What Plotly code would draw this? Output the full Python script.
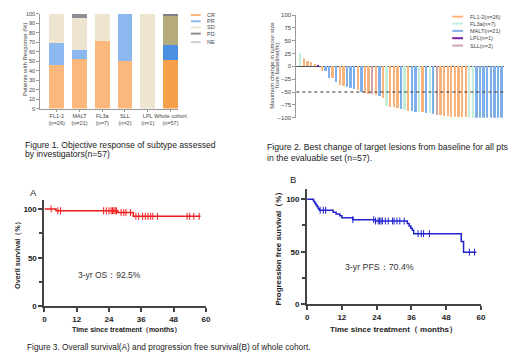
import numpy as np
import plotly.graph_objects as go

W, H = 520, 361
FONT = "Liberation Sans, Arial, sans-serif"

# ---------------- Figure 1 data: response by subtype ----------------
subtypes = ["FL1-2<br>(n=26)", "MALT<br>(n=21)", "FL3a<br>(n=7)", "SLL<br>(n=2)", "LPL<br>(n=1)", "Whole cohort<br>(n=57)"]
resp_names = ["CR", "PR", "SD", "PD", "NE"]
cr_pct = [46.2, 52.4, 71.4, 50.0, 0.0, 50.9]
pr_pct = [23.1, 9.5, 0.0, 50.0, 0.0, 15.8]
sd_pct = [30.8, 33.3, 28.6, 0.0, 100.0, 31.6]
pd_pct = [0.0, 4.8, 0.0, 0.0, 0.0, 1.7]
ne_pct = [0.0, 0.0, 0.0, 0.0, 0.0, 0.0]
resp_colors = ["#fbb77c", "#8bb9ef", "#ede5cf", "#8e8e96", "#cfcfcf"]
whole_colors = ["#f7a04c", "#4a8fe2", "#b4aa7a", "#80808a", "#bdbdbd"]

# ---------------- Figure 2 data: waterfall ----------------
wf_change = [27, 17, 11, 8, 5, 3, -9, -10, -22, -23, -31, -37, -39, -40, -42, -44, -46, -49, -52, -53,
             -54, -55, -58, -62, -77, -79, -80, -81, -84, -85, -86, -87, -88, -88, -89, -90, -91, -92,
             -94, -95, -96, -97, -98, -98, -99, -99, -99, -100, -100, -100, -100, -100, -100, -100,
             -100, -100, -100]
wf_subtype = ["FL3a", "FL1-2", "FL1-2", "FL1-2", "FL1-2", "LPL", "FL1-2", "MALT", "MALT", "FL1-2",
              "MALT", "FL1-2", "FL1-2", "MALT", "MALT", "MALT", "FL1-2", "MALT", "FL1-2", "FL1-2",
              "SLL", "FL1-2", "MALT", "FL1-2", "FL3a", "FL1-2", "FL1-2",
              "FL1-2", "MALT", "FL3a", "FL1-2", "MALT", "MALT", "FL3a", "FL1-2", "MALT", "FL3a",
              "MALT", "SLL", "FL1-2", "FL1-2", "FL1-2", "FL1-2", "FL1-2", "FL1-2", "FL1-2", "FL1-2",
              "FL3a", "FL3a", "MALT", "MALT", "MALT", "MALT", "MALT", "MALT", "MALT", "MALT"]
wf_legend = ["FL1-2(n=26)", "FL3a(n=7)", "MALT(n=21)", "LPL(n=1)", "SLL(n=2)"]
wf_keys = ["FL1-2", "FL3a", "MALT", "LPL", "SLL"]
wf_colors = ["#fbb57c", "#c4eedc", "#80b0ea", "#7a1fa0", "#cfa3aa"]

# ---------------- Figure 3 data: KM curves ----------------
os_times = [0, 4.3, 27.3, 33.0, 58.0]
os_surv = [100, 98.2, 96.3, 92.5, 92.5]
os_censor = [2.5, 5.0, 6.0, 22.0, 23.0, 24.0, 24.8, 25.3, 25.8, 26.3, 26.8, 28.5, 29.5, 30.3, 32.0,
             34.0, 35.0, 36.5, 37.5, 38.5, 39.5, 40.3, 42.0, 53.0, 54.0, 55.5, 57.5]
pfs_times = [0, 2.2, 2.6, 3.0, 3.4, 3.8, 4.2, 9.0, 10.0, 11.3, 12.0, 15.8, 23.6, 34.6, 35.2, 35.8,
             36.3, 36.8, 53.2, 54.0, 58.4]
pfs_surv = [100, 98.2, 96.5, 94.7, 93.0, 91.2, 89.5, 87.7, 86.0, 84.2, 82.5, 80.6, 79.3, 77.0, 74.6,
            72.4, 70.4, 67.2, 59.8, 49.6, 49.6]
pfs_censor = [4.5, 5.6, 6.4, 15.8, 23.0, 23.6, 24.5, 25.0, 25.5, 26.0, 27.0, 28.0, 29.5, 30.0, 31.0,
              32.0, 33.5, 38.3, 39.4, 40.2, 42.2, 56.0, 57.8]
x_ticks = [0, 12, 24, 36, 48, 60]


def step_at(times, surv, t):
    idx = np.searchsorted(np.array(times), np.array(t), side="right") - 1
    return [surv[i] for i in idx]


def px(x):
    return x / W


def py(y):
    return 1 - y / H


fig = go.Figure()

# ----- Fig 1 stacked bars
all_pct = [cr_pct, pr_pct, sd_pct, pd_pct, ne_pct]
for name, vals, c, cw in zip(resp_names, all_pct, resp_colors, whole_colors):
    fig.add_bar(x=subtypes, y=vals, name=name, marker=dict(color=[c] * 5 + [cw], line_width=0),
                xaxis="x", yaxis="y", showlegend=False)

# ----- Fig 2 waterfall
cmap = dict(zip(wf_keys, wf_colors))
fig.add_bar(x=list(range(1, len(wf_change) + 1)), y=wf_change,
            marker=dict(color=[cmap[s] for s in wf_subtype], line_width=0),
            xaxis="x2", yaxis="y2", showlegend=False)

# ----- Fig 3A OS
fig.add_scatter(x=os_times, y=os_surv, mode="lines", line=dict(color="#ee1c1c", width=1.5, shape="hv"),
                xaxis="x3", yaxis="y3", showlegend=False)
fig.add_scatter(x=os_censor, y=step_at(os_times, os_surv, os_censor), mode="markers",
                marker=dict(symbol="line-ns", size=5, line=dict(color="#ee1c1c", width=1)),
                xaxis="x3", yaxis="y3", showlegend=False)
# ----- Fig 3B PFS
fig.add_scatter(x=pfs_times, y=pfs_surv, mode="lines", line=dict(color="#2222cc", width=1.5, shape="hv"),
                xaxis="x4", yaxis="y4", showlegend=False)
fig.add_scatter(x=pfs_censor, y=step_at(pfs_times, pfs_surv, pfs_censor), mode="markers",
                marker=dict(symbol="line-ns", size=5, line=dict(color="#2222cc", width=1)),
                xaxis="x4", yaxis="y4", showlegend=False)

small = dict(family=FONT, size=5.5, color="#444")
bold_tick = dict(family=FONT, size=8, color="#222", weight="bold")

km_axis = dict(showline=True, linecolor="#444", linewidth=2, ticks="outside", ticklen=4, tickwidth=2,
               tickcolor="#444", showgrid=False, zeroline=False, tickfont=bold_tick)

fig.update_layout(
    width=W, height=H, margin=dict(l=0, r=0, t=0, b=0),
    paper_bgcolor="white", plot_bgcolor="white", barmode="stack", bargap=0.35,
    font=dict(family=FONT, color="#333"),
    xaxis=dict(domain=[px(39), px(180)], anchor="y", type="category", range=[-0.73, 5.34],
               showline=True, linecolor="#999", ticks="outside", ticklen=2, tickcolor="#999",
               tickfont=small, tickangle=0, showgrid=False),
    yaxis=dict(domain=[py(108), py(11)], anchor="x", range=[0, 100], dtick=10, showline=True,
               linecolor="#999", ticks="outside", ticklen=3, tickcolor="#999", tickfont=small,
               showgrid=False, zeroline=False),
    xaxis2=dict(domain=[px(300.7), px(513)], anchor="y2", range=[-0.1, 57.7], showticklabels=False,
                showline=False, zeroline=False, showgrid=False, ticks=""),
    yaxis2=dict(domain=[py(117.3), py(12.3)], anchor="x2", range=[-100, 100],
                tickvals=[-100, -75, -50, -25, 0, 25, 50, 75, 100], showline=True, linecolor="#999",
                ticks="outside", ticklen=3, tickcolor="#999", tickfont=dict(family=FONT, size=6, color="#444"),
                showgrid=False, zeroline=True, zerolinecolor="#555", zerolinewidth=1),
    xaxis3=dict(domain=[px(43.3), px(208.3)], anchor="y3", range=[0, 60], tickvals=x_ticks, **km_axis),
    yaxis3=dict(domain=[py(310.3), py(201.7)], anchor="x3", range=[0, 109], tickvals=[0, 50, 100],
                minor=dict(tickvals=[25, 75], ticks="outside", ticklen=3, tickwidth=2, tickcolor="#444"),
                **km_axis),
    xaxis4=dict(domain=[px(311.7), px(489.3)], anchor="y4", range=[0, 60], tickvals=x_ticks, **km_axis),
    yaxis4=dict(domain=[py(308), py(190)], anchor="x4", range=[0, 110], tickvals=[0, 50, 100],
                minor=dict(tickvals=[25, 75], ticks="outside", ticklen=3, tickwidth=2, tickcolor="#444"),
                **km_axis),
)

# dashed -50% reference line in waterfall
fig.add_shape(type="line", xref="x2 domain", yref="y2", x0=0, x1=1, y0=-50, y1=-50,
              line=dict(color="#333", width=1, dash="dot"))

ann = []


def txt(x, y, s, size, color="#333", angle=0, xanchor="center", weight="normal"):
    ann.append(dict(x=px(x), y=py(y), xref="paper", yref="paper", text=s, showarrow=False,
                    xanchor=xanchor, yanchor="middle", textangle=angle,
                    font=dict(family=FONT, size=size, color=color, weight=weight)))


# legends (swatches + labels)
leg1_y = [12.3, 18.7, 25, 31.3, 40]
for name, c, yy in zip(resp_names, resp_colors, leg1_y):
    fig.add_shape(type="line", xref="paper", yref="paper", x0=px(193), x1=px(203), y0=py(yy), y1=py(yy),
                  line=dict(color=c, width=2))
    txt(207, yy, name, 5.5, "#444", xanchor="left")
leg2_y = [14, 21, 28.5, 36, 43.5]
for name, c, yy in zip(wf_legend, wf_colors, leg2_y):
    fig.add_shape(type="line", xref="paper", yref="paper", x0=px(460), x1=px(471), y0=py(yy), y1=py(yy),
                  line=dict(color=c, width=2))
    txt(476, yy, name, 5.5, "#444", xanchor="left")

# axis titles
txt(23, 58, "Patients with Response (%)", 6, "#444", angle=-90)
txt(275, 64, "Maximum change in tumour size", 6, "#444", angle=-90)
txt(280.5, 64, "from baseline(%)", 6, "#444", angle=-90)
txt(16, 256, "Overll survival（%）", 7.3, "#222", angle=-90, weight="bold")
txt(127, 334, "Time since treatment（months）", 7, "#222", weight="bold")
txt(282, 249, "Progression free survival（%）", 7.9, "#222", angle=-90, weight="bold")
txt(400, 334, "Time since treatment（ months）", 8, "#222", weight="bold")
txt(32, 194, "A", 9.5, "#222")
txt(297, 181, "B", 9.5, "#222")
txt(110, 277.7, "3-yr OS：92.5%", 8.5, "#333")
txt(386, 270, "3-yr PFS：70.4%", 8.8, "#333")

# captions
txt(21, 145, "Figure 1. Objective response of subtype assessed", 8.6, "#222", xanchor="left")
txt(21, 154.5, "by investigators(n=57)", 8.6, "#222", xanchor="left")
txt(269, 147, "Figure 2. Best change of target lesions from baseline for all pts", 8.7, "#222", xanchor="left")
txt(269, 158.7, "in the evaluable set (n=57).", 8.7, "#222", xanchor="left")
txt(24, 351.7, "Figure 3. Overall survival(A) and progression free survival(B) of whole cohort.", 8.3, "#222",
    xanchor="left")

fig.update_layout(annotations=ann)
fig.write_html("out.html", config={"displayModeBar": False},
               post_script="document.body.style.margin='0';document.body.style.padding='0';")
